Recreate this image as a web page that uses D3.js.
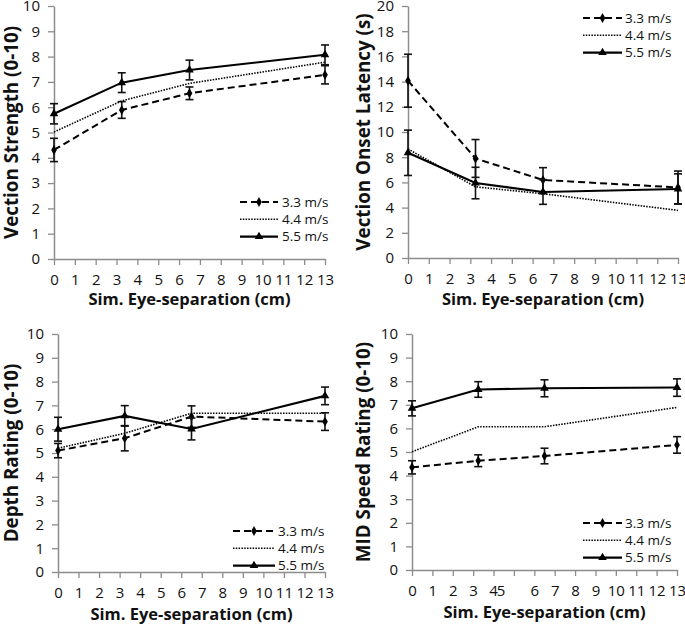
<!DOCTYPE html>
<html>
<head>
<meta charset="utf-8">
<script src="https://cdn.jsdelivr.net/npm/d3@7"></script>
<style>
  html, body { margin: 0; padding: 0; background: #fff; }
  svg { display: block; }
  text { font-family: "Open Sans", sans-serif; fill: #111; }
</style>
</head>
<body>
<svg id="chart" width="685" height="626"></svg>
<script>
// ---------- data ----------
const eyeSep = [0, 3.25, 6.5, 13];
const seriesNames = ["3.3 m/s", "4.4 m/s", "5.5 m/s"];
const xTicks = [0,1,2,3,4,5,6,7,8,9,10,11,12,13];
const xTitle = "Sim. Eye-separation (cm)";

const strength33 = [4.31, 5.89, 6.55, 7.28];
const strength33Err = [0.46, 0.33, 0.25, 0.36];
const strength44 = [5.02, 6.25, 6.94, 7.78];
const strength55 = [5.74, 6.97, 7.47, 8.07];
const strength55Err = [0.40, 0.39, 0.39, 0.39];

const latency33 = [14.07, 7.9, 6.19, 5.6];
const latency33Err = [2.1, 1.5, 0.98, 1.3];
const latency44 = [8.65, 5.65, 5.1, 3.78];
const latency55 = [8.35, 5.95, 5.24, 5.48];
const latency55Err = [1.8, 1.25, 0.98, 1.2];

const depth33 = [5.1, 5.62, 6.53, 6.32];
const depth33Err = [0.3, 0.53, 0.45, 0.37];
const depth44 = [5.2, 5.83, 6.67, 6.67];
const depth55 = [6.0, 6.56, 6.01, 7.4];
const depth55Err = [0.5, 0.43, 0.46, 0.37];

const speed33 = [4.35, 4.63, 4.83, 5.3];
const speed33Err = [0.28, 0.25, 0.33, 0.35];
const speed44 = [5.01, 6.07, 6.07, 6.89];
const speed55 = [6.85, 7.65, 7.7, 7.73];
const speed55Err = [0.32, 0.33, 0.36, 0.37];

const yTicks10 = [0,1,2,3,4,5,6,7,8,9,10];
const yTicks20 = [0,2,4,6,8,10,12,14,16,18,20];

// ---------- layout ----------
const panels = [
  { yTitle: "Vection Strength (0-10)", yMax: 10, yTicks: yTicks10,
    s: [strength33, strength44, strength55], e: [strength33Err, null, strength55Err],
    box: {l: 54, r: 325, t: 6, b: 259}, yTitleX: 17.5, xTitleY: 305,
    legend: {x1: 240, x2: 278, tx: 282, y: 202} },
  { yTitle: "Vection Onset Latency (s)", yMax: 20, yTicks: yTicks20,
    s: [latency33, latency44, latency55], e: [latency33Err, null, latency55Err],
    box: {l: 408, r: 678, t: 6, b: 258}, yTitleX: 370, xTitleY: 305,
    legend: {x1: 583, x2: 622, tx: 625, y: 18} },
  { yTitle: "Depth Rating (0-10)", yMax: 10, yTicks: yTicks10,
    s: [depth33, depth44, depth55], e: [depth33Err, null, depth55Err],
    box: {l: 58, r: 325, t: 334, b: 572}, yTitleX: 17.5, xTitleY: 620,
    legend: {x1: 233, x2: 275, tx: 278, y: 531} },
  { yTitle: "MID Speed Rating (0-10)", yMax: 10, yTicks: yTicks10,
    s: [speed33, speed44, speed55], e: [speed33Err, null, speed55Err],
    box: {l: 412, r: 677, t: 334, b: 570}, yTitleX: 370, xTitleY: 618,
    legend: {x1: 583, x2: 622, tx: 625, y: 523}, shiftLabel5: true }
];

const styles = [
  { dash: "7,4", width: 2, symbol: d3.symbolDiamond, size: 28 },
  { dash: "1.5,1.3", width: 1.6, symbol: null, size: 0 },
  { dash: null, width: 2.1, symbol: d3.symbolTriangle, size: 32 }
];

const svg = d3.select("#chart");
svg.append("rect").attr("width", 685).attr("height", 626).attr("fill", "#fff");

panels.forEach(p => {
  const g = svg.append("g");
  const x = d3.scaleLinear().domain([0, 13]).range([p.box.l, p.box.r]);
  const y = d3.scaleLinear().domain([0, p.yMax]).range([p.box.b, p.box.t]);

  // axes
  const xa = g.append("g").attr("transform", `translate(0,${p.box.b})`)
    .call(d3.axisBottom(x).tickValues(xTicks).tickFormat(d3.format("d"))
      .tickSizeInner(6).tickSizeOuter(0).tickPadding(9));
  const ya = g.append("g").attr("transform", `translate(${p.box.l},0)`)
    .call(d3.axisLeft(y).tickValues(p.yTicks).tickFormat(d3.format("d"))
      .tickSizeInner(6).tickSizeOuter(0).tickPadding(8));
  [xa, ya].forEach(a => {
    a.select(".domain").attr("stroke", "#8c8c8c").attr("stroke-width", 1.5);
    a.selectAll(".tick line").attr("stroke", "#8c8c8c").attr("stroke-width", 1.3);
    a.selectAll(".tick text").attr("font-size", 15).attr("fill", "#1a1a1a")
      .attr("font-family", "'Open Sans', sans-serif");
  });
  if (p.shiftLabel5) {
    xa.selectAll(".tick text").filter(d => d === 5).attr("dx", -13.5);
    xa.selectAll(".tick text").filter(d => d === 4).attr("dx", -0.5);
  }

  // titles
  g.append("text")
    .attr("transform", `translate(${p.yTitleX},${(p.box.t + p.box.b) / 2}) rotate(-90)`)
    .attr("text-anchor", "middle").attr("font-weight", "bold").attr("font-size", 18.8)
    .attr("fill", "#000").text(p.yTitle);
  g.append("text")
    .attr("x", (p.box.l + p.box.r) / 2).attr("y", p.xTitleY)
    .attr("text-anchor", "middle").attr("font-weight", "bold").attr("font-size", 16.5)
    .attr("fill", "#000").text(xTitle);

  // series
  p.s.forEach((vals, i) => {
    const st = styles[i];
    const pts = eyeSep.map((xv, k) => ({ x: xv, y: vals[k], e: p.e[i] ? p.e[i][k] : null }));
    // error bars
    if (p.e[i]) {
      const eb = g.append("g").attr("stroke", "#111").attr("stroke-width", 1.6);
      pts.forEach(d => {
        eb.append("line").attr("x1", x(d.x)).attr("x2", x(d.x))
          .attr("y1", y(d.y - d.e)).attr("y2", y(d.y + d.e));
        [d.y - d.e, d.y + d.e].forEach(v => {
          eb.append("line").attr("x1", x(d.x) - 4).attr("x2", x(d.x) + 4)
            .attr("y1", y(v)).attr("y2", y(v));
        });
      });
    }
    g.append("path").datum(pts)
      .attr("fill", "none").attr("stroke", "#000").attr("stroke-width", st.width)
      .attr("stroke-dasharray", st.dash)
      .attr("d", d3.line().x(d => x(d.x)).y(d => y(d.y)));
    if (st.symbol) {
      g.selectAll(null).data(pts).enter().append("path")
        .attr("transform", d => `translate(${x(d.x)},${y(d.y)})`)
        .attr("d", d3.symbol().type(st.symbol).size(st.size))
        .attr("fill", "#000");
    }
  });

  // legend
  seriesNames.forEach((name, i) => {
    const st = styles[i];
    const ly = p.legend.y + i * 17.3;
    g.append("line").attr("x1", p.legend.x1).attr("x2", p.legend.x2)
      .attr("y1", ly).attr("y2", ly)
      .attr("stroke", "#000").attr("stroke-width", st.width)
      .attr("stroke-dasharray", st.dash);
    if (st.symbol) {
      g.append("path").attr("transform", `translate(${(p.legend.x1 + p.legend.x2) / 2},${ly})`)
        .attr("d", d3.symbol().type(st.symbol).size(st.size)).attr("fill", "#000");
    }
    g.append("text").attr("x", p.legend.tx).attr("y", ly).attr("dy", "0.35em")
      .attr("font-size", 13.5).attr("fill", "#1a1a1a").text(name);
  });
});
</script>
</body>
</html>
